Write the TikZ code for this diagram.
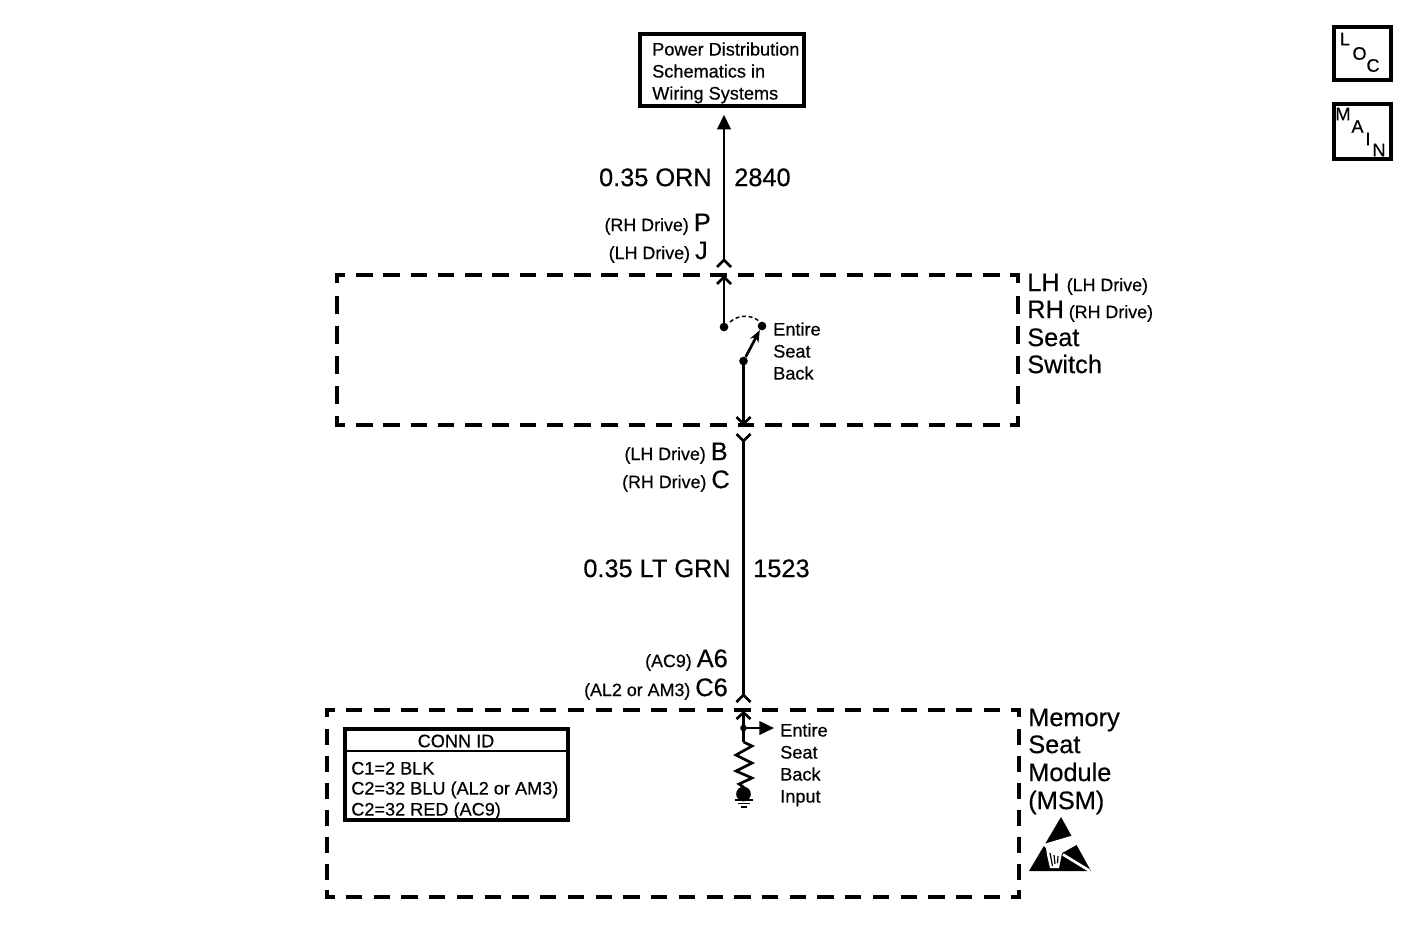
\documentclass[tikz,border=0pt]{standalone}
\usepackage{fontspec}
\setmainfont[FakeBold=0.4]{Liberation Sans}
\usetikzlibrary{arrows.meta}
\newcommand{\szS}{\fontsize{13.6}{16.5}\selectfont}
\newcommand{\szT}{\fontsize{13.4}{16.5}\selectfont}
\newcommand{\szL}{\fontsize{19}{20.6}\selectfont}
\tikzset{
  x=0.75pt,y=-0.75pt,
  wire/.style={line width=2pt,black},
  dashH/.style={line width=3.2pt,black,dash pattern=on 12.4pt off 8.05pt},
  dashV/.style={line width=3.2pt,black,dash pattern=on 13.5pt off 9pt},
  dashH2/.style={line width=3.2pt,black,dash pattern=on 12.2pt off 8.6pt},
  dashV2/.style={line width=3.2pt,black,dash pattern=on 12pt off 8.25pt},
  corner/.style={line width=3.2pt,black,line join=miter},
  txtS/.style={inner sep=0pt,font=\szS,anchor=base west,yshift=-4.9pt},
  txtC/.style={inner sep=0pt,font=\szS,anchor=center},
  txtL/.style={inner sep=0pt,font=\szL,anchor=base west,yshift=-6.05pt},
  txtM/.style={inner sep=0pt,anchor=base east,yshift=-6.05pt},
  dotn/.style={circle,fill=black,inner sep=0pt,minimum size=6.5pt},
  fwd/.style={-{Triangle[length=11pt,width=10pt]}},
  chev/.style={line width=2pt,black,line join=miter},
  frame/.style={draw=black,line width=3pt,fill=white,inner sep=0pt,anchor=center},
}
\begin{document}
\begin{tikzpicture}
\useasboundingbox (0,0) rectangle (1426,933);
% top box
\node[frame,minimum width=123pt,minimum height=54pt] (pd) at (722,70) {};
\node[txtS] (pdt1) at (652,49) {Power Distribution};
\node[txtS] (pdt2) at (652,71) {Schematics in};
\node[txtS] (pdt3) at (652,93) {Wiring Systems};
% LOC / MAIN
\node[frame,minimum width=42.75pt,minimum height=39.75pt] (loc) at (1362.5,53.5) {};
\node[frame,minimum width=42.75pt,minimum height=41.25pt] (main) at (1362.5,131.5) {};
\node[txtC] (l1) at (1345,39) {L};
\node[txtC] (l2) at (1359.5,53.5) {O};
\node[txtC] (l3) at (1373,65.5) {C};
\node[txtC] (m1) at (1343,114) {M};
\node[txtC] (m2) at (1357.5,126.5) {A};
\node[txtC] (m3) at (1368,139) {I};
\node[txtC] (m4) at (1379,150) {N};
% dashed box: switch
\draw[corner] (345,275) -- (337,275) -- (337,283);
\draw[corner] (1010,275) -- (1018,275) -- (1018,283);
\draw[corner] (337,416) -- (337,425) -- (345,425);
\draw[corner] (1018,416) -- (1018,425) -- (1010,425);
\draw[dashH] (356,275) -- (1000,275);
\draw[dashH] (356,425) -- (1000,425);
\draw[dashV] (337,296) -- (337,405);
\draw[dashV] (1018,296) -- (1018,405);
% dashed box: module
\draw[corner] (335,710) -- (327,710) -- (327,717);
\draw[corner] (1011,710) -- (1019,710) -- (1019,717);
\draw[corner] (327,890) -- (327,897) -- (335,897);
\draw[corner] (1019,890) -- (1019,897) -- (1011,897);
\draw[dashH2] (346,710) -- (1001,710);
\draw[dashH2] (346,897) -- (1001,897);
\draw[dashV2] (327,729) -- (327,880);
\draw[dashV2] (1019,729) -- (1019,880);
% wire 2840
\coordinate (c1) at (724,262);
\coordinate (c2) at (724,278);
\node[dotn] (sw1) at (724,327) {};
\node[dotn] (sw2) at (762,326) {};
\node[dotn] (sw3) at (743.5,361) {};
\draw[wire,fwd,shorten >=5pt] (c1) -- (pd.south -| c1);
\draw[chev] (717,267) -- (724,260) -- (731,267);
\draw[chev] (717,284) -- (724,277) -- (731,284);
\draw[wire] (sw1.center) -- (c2);
% switch
\draw[wire,-{Stealth[length=9pt,width=7pt]}] (sw3) -- (sw2);
\draw[line width=1.1pt,dash pattern=on 3pt off 2pt] (730,322) .. controls (738,315) and (750,314) .. (759,321);
% wire 1523
\coordinate (c3) at (743.5,423);
\coordinate (c4) at (743.5,440);
\coordinate (c5) at (743.5,696);
\coordinate (c6) at (743.5,714);
\draw[wire] (sw3.center) -- (c3);
\draw[chev] (736.5,417) -- (743.5,424) -- (750.5,417);
\draw[chev] (736.5,434) -- (743.5,441) -- (750.5,434);
\draw[wire] (c4) -- (c5);
\draw[chev] (736.5,702) -- (743.5,695) -- (750.5,702);
\draw[chev] (736.5,719) -- (743.5,712.5) -- (750.5,719);
% MSM internals
\node[dotn,minimum size=5pt] (j) at (743.5,728) {};
\coordinate (arr) at (774,728);
\coordinate (r0) at (743.5,742);
\coordinate (r1) at (743.5,787);
\node[dotn,minimum size=11pt] (gnd) at (743.5,794) {};
\draw[wire] (c6) -- (r0);
\draw[wire,fwd] (j.center) -- (arr);
\draw[wire,line join=miter] (r0) -- (752,746) -- (736,755) -- (752,763) -- (736,771) -- (752,778) -- (739,784) -- (r1) -- (gnd);
\coordinate (g1) at (735,799.5);
\coordinate (g2) at (752.5,799.5);
\coordinate (g3) at (738,803.5);
\coordinate (g4) at (750,803.5);
\coordinate (g5) at (741,807);
\coordinate (g6) at (747,807);
\draw[line width=1.5pt] (g1) -- (g2);
\draw[line width=1.1pt] (g3) -- (g4) (g5) -- (g6);
% conn id
\node[frame,minimum width=167.25pt,minimum height=68.25pt] (conn) at (456.5,774.5) {};
\coordinate (cl) at (345,751);
\draw[line width=2.2pt] (cl) -- (cl -| conn.east);
\node[inner sep=0pt,font=\szS] (connid) at (456,741) {CONN ID};
\node[txtS] (cn1) at (351,768) {C1=2 BLK};
\node[txtS] (cn2) at (351,788) {C2=32 BLU (AL2 or AM3)};
\node[txtS] (cn3) at (351,809) {C2=32 RED (AC9)};
% labels
\node[txtL,anchor=base east] (w1) at (712,178) {0.35 ORN};
\node[txtL] (n1) at (734,178) {2840};
\node[txtL,anchor=base east] (w2) at (731,569) {0.35 LT GRN};
\node[txtL] (n2) at (753,569) {1523};
\node[txtM] (p) at (711,223) {\szT (RH Drive) \szL P};
\node[txtM] (jj) at (708,251) {\szT (LH Drive) \szL J};
\node[txtM] (b) at (728,452) {\szT (LH Drive) \szL B};
\node[txtM] (cc) at (730,480) {\szT (RH Drive) \szL C};
\node[txtM] (a6) at (728,659) {\szT (AC9) \szL A6};
\node[txtM] (c6l) at (728,688) {\szT (AL2 or AM3) \szL C6};
\node[txtL] (lh) at (1027,283) {LH \szT (LH Drive)};
\node[txtL] (rh) at (1027,310) {RH\kern0.5pt\,\szT (RH Drive)};
\node[txtL] (ss) at (1027,338) {Seat};
\node[txtL] (sw) at (1027,365) {Switch};
\node[txtL] (msm1) at (1028,718) {Memory};
\node[txtL] (msm2) at (1028,745) {Seat};
\node[txtL] (msm3) at (1028,773) {Module};
\node[txtL] (msm4) at (1028,801) {(MSM)};
\node[txtS] (e1) at (773,329) {Entire};
\node[txtS] (e2) at (773,351) {Seat};
\node[txtS] (e3) at (773,373) {Back};
\node[txtS] (i1) at (780,730) {Entire};
\node[txtS] (i2) at (780,752) {Seat};
\node[txtS] (i3) at (780,774) {Back};
\node[txtS] (i4) at (780,796) {Input};
% ESD symbol
\fill (1061,817) -- (1029,871) -- (1091,871) -- cycle;
\fill[white] (1042,844.5) -- (1072.5,835.5) -- (1078,844) -- (1062,853) -- (1059,868) -- (1050,868) -- (1047,855) -- (1046,848) -- cycle;
\draw[line width=0.9pt] (1050,853) -- (1052.5,866) (1054,855) -- (1055,864) (1058,856) -- (1057.5,863);
\draw[white,line width=2pt] (1063,854.5) -- (1090,871);
\end{tikzpicture}
\end{document}
